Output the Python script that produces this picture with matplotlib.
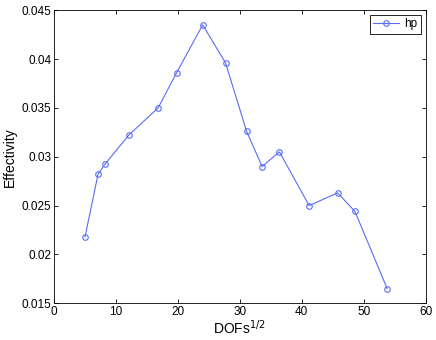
import matplotlib
matplotlib.use("Agg")
import matplotlib.pyplot as plt

# values
dofs_sqrt = [5.0, 7.1, 8.3, 12.05, 16.8, 19.8, 24.0, 27.7, 31.1, 33.6, 36.4, 41.2, 45.8, 48.6, 53.8]
effectivity = [0.0218, 0.0282, 0.0293, 0.0322, 0.0350, 0.0386, 0.0435, 0.0396,
               0.0326, 0.0290, 0.0305, 0.0250, 0.0263, 0.0244, 0.0165]
x_ticks = [0, 10, 20, 30, 40, 50, 60]
y_ticks = [0.015, 0.02, 0.025, 0.03, 0.035, 0.04, 0.045]
y_tick_labels = ["0.015", "0.02", "0.025", "0.03", "0.035", "0.04", "0.045"]

plt.rcParams["font.family"] = ["Liberation Sans", "DejaVu Sans"]
plt.rcParams["font.size"] = 8.5

fig = plt.figure(figsize=(4.36, 3.40), dpi=100)
ax = fig.add_axes([0.124, 0.108, 0.852, 0.862])

line_col = "#5a6cf6"
ax.plot(dofs_sqrt, effectivity, color=line_col, lw=0.8, marker="o", ms=4,
        mfc="none", mec=line_col, mew=0.8, label="hp")

ax.set_xlim(0, 60)
ax.set_ylim(0.015, 0.045)
ax.set_xticks(x_ticks)
ax.set_yticks(y_ticks)
ax.set_yticklabels(y_tick_labels)
ax.tick_params(direction="in", top=True, right=True, length=3, width=0.6, pad=2)
for s in ax.spines.values():
    s.set_linewidth(0.6)

ax.set_xlabel("DOFs$^{1/2}$", fontsize=10, labelpad=0)
ax.set_ylabel("Effectivity", fontsize=10, labelpad=3)

leg = ax.legend(loc="upper right", fancybox=False, framealpha=1, borderpad=0.3,
                handlelength=2.2, handletextpad=0.4, borderaxespad=0.4)
leg.get_frame().set_edgecolor("black")
leg.get_frame().set_linewidth(0.6)

fig.savefig("out.png", dpi=100)
